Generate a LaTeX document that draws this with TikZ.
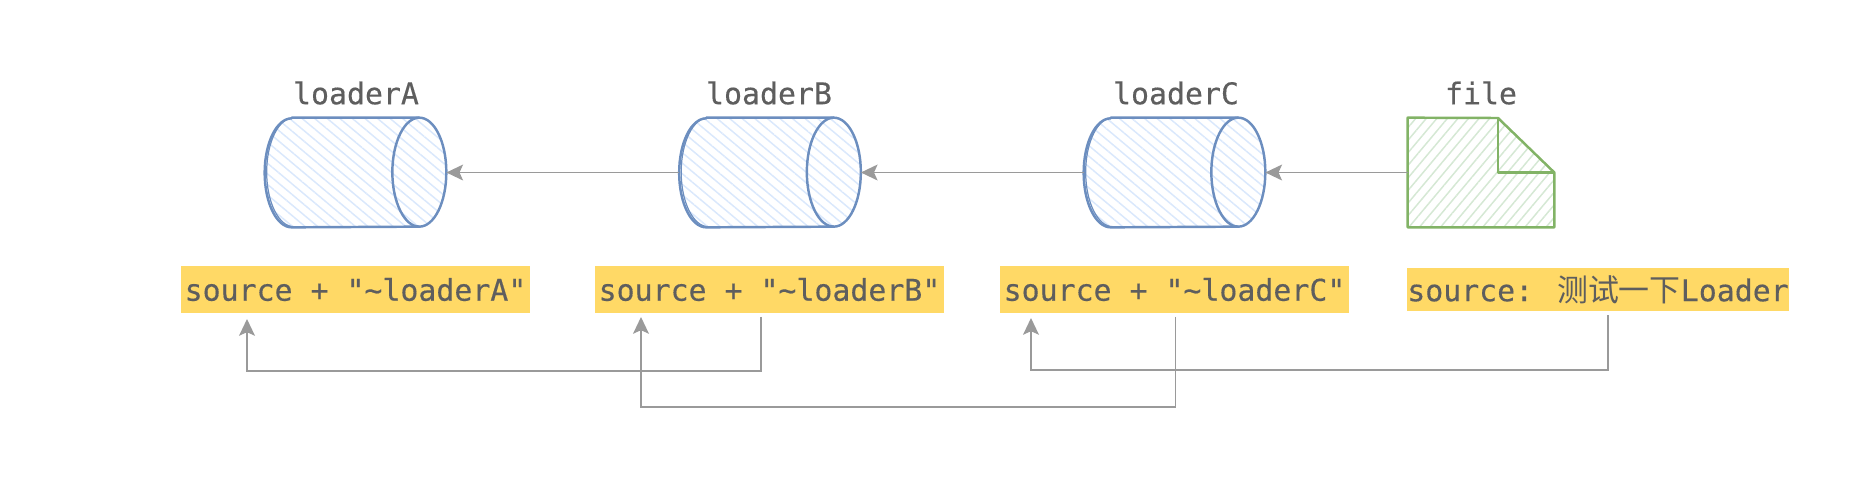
\documentclass[tikz,border=0pt]{standalone}
\usepackage{fontspec}
\usepackage{xcolor}
\newfontfamily\codefont[FakeBold=0.35]{DejaVu Sans Mono}
\newfontfamily\cjk{Noto Sans CJK SC}
\usetikzlibrary{arrows.meta,patterns.meta}
\definecolor{txtgray}{HTML}{5E5E5E}
\definecolor{arrowgray}{HTML}{9A9A9A}
\definecolor{boxyellow}{HTML}{FFD966}
\definecolor{loaderblue}{HTML}{6C8EBF}
\definecolor{hatchblue}{HTML}{DAE8FC}
\definecolor{filegreen}{HTML}{82B366}
\definecolor{hatchgreen}{HTML}{D5E8D4}
\tikzset{
	monotext/.style={text=txtgray,font=\fontsize{17}{20}\codefont,inner sep=0pt},
	codebox/.style={monotext,fill=boxyellow,minimum height=0.93cm},
	loader/.style={minimum width=3.62cm,minimum height=2.18cm,inner sep=0pt},
	loaderline/.style={draw=loaderblue,line width=1.4pt,line join=round},
	bluehatch/.style={pattern={Lines[angle=-40,distance=4.6pt,line width=0.85pt]},pattern color=hatchblue},
	greenhatch/.style={pattern={Lines[angle=50,distance=4.6pt,line width=0.85pt]},pattern color=hatchgreen},
	fileline/.style={draw=filegreen,line width=1.4pt,line join=round},
	flow/.style={draw=arrowgray,line width=1pt,shorten <=2.2pt,-{Stealth[length=9.5pt,width=9pt,inset=2pt]}},
}
\begin{document}
\begin{tikzpicture}[x=0.02cm,y=-0.02cm]
	\useasboundingbox (0,0) rectangle (1864,498);
	% Cylinders and file
	\node[loader] (loaderA) at (355.5,172.5) {};
	\node[loader] (loaderB) at (770,172.5) {};
	\node[loader] (loaderC) at (1174.5,172.5) {};
	\node[minimum width=2.92cm,minimum height=2.18cm,inner sep=0pt] (file) at (1481,172.5) {};
	\foreach \n in {loaderA,loaderB,loaderC} {
		\path[bluehatch] ([xshift=0.54cm]\n.north west) -- ([xshift=-0.54cm]\n.north east)
			arc[start angle=90,end angle=-90,x radius=0.54cm,y radius=1.09cm]
			-- ([xshift=0.54cm]\n.south west)
			arc[start angle=270,end angle=90,x radius=0.54cm,y radius=1.09cm] -- cycle;
		\draw[loaderline] ([xshift=0.54cm]\n.north west) -- ([xshift=-0.54cm]\n.north east)
			arc[start angle=90,end angle=-90,x radius=0.54cm,y radius=1.09cm]
			-- ([xshift=0.54cm]\n.south west)
			arc[start angle=270,end angle=90,x radius=0.54cm,y radius=1.09cm] -- cycle;
		\draw[loaderline] ([xshift=-0.54cm]\n.north east)
			arc[start angle=90,end angle=270,x radius=0.54cm,y radius=1.09cm];
		% Second stroke of the left side
		\draw[loaderline,line width=0.7pt] ([xshift=0.58cm]\n.north west)
			arc[start angle=90,end angle=270,x radius=0.54cm,y radius=1.09cm];
	}
	\path[greenhatch] (file.north west) -- (1498,118) -- (file.east) -- (file.south east) -- (file.south west) -- cycle;
	\draw[fileline] (file.north west) -- (1498,118) -- (file.east) -- (file.south east) -- (file.south west) -- cycle;
	\draw[fileline] (1498,118) -- (1498,172.5) -- (file.east);
	% Titles
	\node[monotext] (titleA) at (356,93) {loaderA};
	\node[monotext] (titleB) at (769,93) {loaderB};
	\node[monotext] (titleC) at (1176,93) {loaderC};
	\node[monotext] (titleF) at (1481,93) {file};
	% Source boxes
	\node[codebox,minimum width=6.98cm] (srcA) at (355.5,289.5) {source + "\char`\~loaderA"};
	\node[codebox,minimum width=6.98cm] (srcB) at (769.5,289.5) {source + "\char`\~loaderB"};
	\node[codebox,minimum width=6.98cm] (srcC) at (1174.5,289.5) {source + "\char`\~loaderC"};
	\node[codebox,minimum width=7.6cm,minimum height=0.86cm] (srcF) at (1598,289.5) {source: {\cjk\fontsize{17.6}{20}\selectfont 测试一下}Loader};
	% Free ends of the arrows below the boxes
	\coordinate (tipA) at (247,319);
	\coordinate (tipB) at (641,317);
	\coordinate (tipC) at (1031,318);
	% Arrows
	\draw[flow,shorten <=0pt] (file.west) -- (loaderC.east);
	\draw[flow,shorten <=0pt] (loaderC.west) -- (loaderB.east);
	\draw[flow,shorten <=0pt] (loaderB.west) -- (loaderA.east);
	\draw[flow] ([xshift=-0.17cm]srcB.south) -- ++(0,58) -| (tipA);
	\draw[flow] ([xshift=0.02cm]srcC.south) -- ++(0,94) -| (tipB);
	\draw[flow] ([xshift=0.2cm]srcF.south) -- ++(0,59) -| (tipC);
\end{tikzpicture}
\end{document}
